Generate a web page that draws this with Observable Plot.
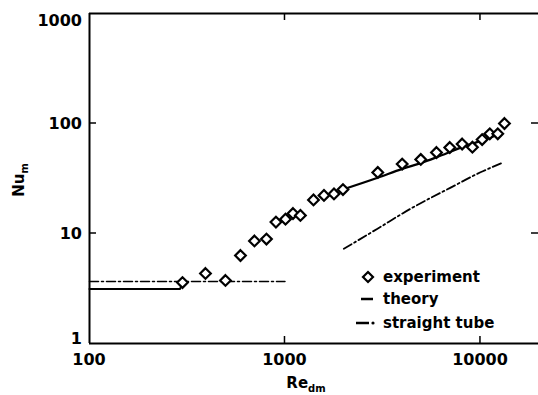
<!DOCTYPE html>
<html><head><meta charset="utf-8">
<script src="https://cdn.jsdelivr.net/npm/d3@7"></script>
<script src="https://cdn.jsdelivr.net/npm/@observablehq/plot@0.6"></script>
<style>body{margin:0;background:#fff} svg{display:block}</style>
</head><body><div id="chart"></div>
<script>
// Experiment (diamonds)
const expRe = [299, 392, 496, 592, 698, 804, 899, 1006, 1099, 1199, 1399, 1583, 1781, 1980, 2983, 3977, 4950, 5957, 6966, 8059, 9095, 10200, 11160, 12260, 13270];
const expNu = [3.58, 4.33, 3.74, 6.31, 8.55, 8.91, 12.7, 13.5, 15.2, 14.6, 20.2, 22.2, 22.9, 25.1, 35.9, 42.8, 47.1, 54.5, 60.5, 65.1, 60.9, 71.5, 80.6, 80.6, 100];
// Theory (solid)
const theoryLamRe = [100, 290, 300];
const theoryLamNu = [3.13, 3.13, 3.5];
const theoryTurbRe = [1960, 2980, 3980, 4950, 5990, 8060, 9600, 12000];
const theoryTurbNu = [25, 32.1, 38.7, 43.6, 49.4, 60.9, 67.6, 78];
// Straight tube (dash-dot)
const tubeLamRe = [100, 1000];
const tubeLamNu = [3.66, 3.66];
const tubeTurbRe = [2000, 2960, 4390, 7000, 10000, 13150];
const tubeTurbNu = [7.26, 11.0, 16.8, 26, 36, 44.4];
// Axes
const xTicks = [100, 1000, 10000];
const yTicks = [1, 10, 100, 1000];
const legendItems = ["experiment", "theory", "straight tube"];

const zip = (a, b) => a.map((v, i) => ({Re: v, Nu: b[i]}));
const exp = zip(expRe, expNu);
const dashDot = "9,3,2,3";

const chart = Plot.plot({
  width: 538, height: 395,
  marginLeft: 89, marginTop: 13, marginBottom: 52, marginRight: 0,
  x: {type: "log", domain: [100, 19810], axis: null},
  y: {type: "log", domain: [1, 1000], axis: null},
  style: {fontFamily: "DejaVu Sans", background: "white", overflow: "visible"},
  marks: [
    Plot.ruleX([100], {stroke: "black", strokeWidth: 2}),
    Plot.ruleY([1, 1000], {stroke: "black", strokeWidth: 2}),
    Plot.line(zip(tubeLamRe, tubeLamNu), {x: "Re", y: "Nu", stroke: "black", strokeWidth: 1.5, strokeDasharray: dashDot}),
    Plot.line(zip(tubeTurbRe, tubeTurbNu), {x: "Re", y: "Nu", stroke: "black", strokeWidth: 1.8, strokeDasharray: dashDot, curve: "monotone-x"}),
    Plot.line(zip(theoryLamRe, theoryLamNu), {x: "Re", y: "Nu", stroke: "black", strokeWidth: 2}),
    Plot.line(zip(theoryTurbRe, theoryTurbNu), {x: "Re", y: "Nu", stroke: "black", strokeWidth: 2.3, curve: "monotone-x"}),
    Plot.dot(exp, {x: "Re", y: "Nu", symbol: "diamond2", r: 4.8, stroke: "black", strokeWidth: 2.2, fill: "white"})
  ]
});
document.getElementById("chart").append(chart);

const sx = chart.scale("x"), sy = chart.scale("y");
const svg = d3.select(chart);
const g = svg.append("g").attr("font-family", "DejaVu Sans").attr("font-weight", "bold").attr("fill", "black");
const x0 = sx.apply(100), x1 = 538, y0 = sy.apply(1), y1 = sy.apply(1000);
const tk = 7;
// inward ticks
[1000, 10000].forEach(v => {
  const x = sx.apply(v);
  g.append("line").attr("x1", x).attr("x2", x).attr("y1", y0).attr("y2", y0 - tk).attr("stroke", "black").attr("stroke-width", 1.5);
  g.append("line").attr("x1", x).attr("x2", x).attr("y1", y1).attr("y2", y1 + tk).attr("stroke", "black").attr("stroke-width", 1.5);
});
[10, 100].forEach(v => {
  const y = sy.apply(v);
  g.append("line").attr("x1", x0).attr("x2", x0 + tk).attr("y1", y).attr("y2", y).attr("stroke", "black").attr("stroke-width", 1.5);
  g.append("line").attr("x1", x1).attr("x2", x1 - tk).attr("y1", y).attr("y2", y).attr("stroke", "black").attr("stroke-width", 1.5);
});
// tick labels
const yShift = {1: -5, 1000: 7};
yTicks.forEach(v => {
  g.append("text").attr("x", x0 - 7).attr("y", sy.apply(v) + (yShift[v] || 0))
    .attr("text-anchor", "end").attr("dominant-baseline", "central").attr("font-size", 16).text(String(v));
});
xTicks.forEach(v => {
  g.append("text").attr("x", sx.apply(v)).attr("y", y0 + 16)
    .attr("text-anchor", "middle").attr("dominant-baseline", "central").attr("font-size", 16).text(String(v));
});
// axis titles
const xt = g.append("text").attr("x", 306).attr("y", 388).attr("text-anchor", "middle").attr("font-size", 15);
xt.append("tspan").text("Re");
xt.append("tspan").attr("font-size", 10).attr("dy", 4).text("dm");
const yt = g.append("text").attr("transform", "translate(24,180) rotate(-90)").attr("text-anchor", "middle").attr("font-size", 15);
yt.append("tspan").text("Nu");
yt.append("tspan").attr("font-size", 10).attr("dy", 4).text("m");
// legend
const ly = [277, 299, 323];
const lx = 383;
g.append("path").attr("d", d3.symbol(d3.symbolDiamond2, 64)()).attr("transform", `translate(368,${ly[0]})`)
  .attr("fill", "white").attr("stroke", "black").attr("stroke-width", 2.2);
g.append("line").attr("x1", 361).attr("x2", 373).attr("y1", ly[1]).attr("y2", ly[1]).attr("stroke", "black").attr("stroke-width", 2.5);
g.append("line").attr("x1", 356).attr("x2", 369).attr("y1", ly[2]).attr("y2", ly[2]).attr("stroke", "black").attr("stroke-width", 2.5);
g.append("circle").attr("cx", 373).attr("cy", ly[2]).attr("r", 1.6).attr("fill", "black");
legendItems.forEach((t, i) => {
  g.append("text").attr("x", lx).attr("y", ly[i]).attr("text-anchor", "start").attr("dominant-baseline", "central").attr("font-size", 15).text(t);
});
</script>
</body></html>
